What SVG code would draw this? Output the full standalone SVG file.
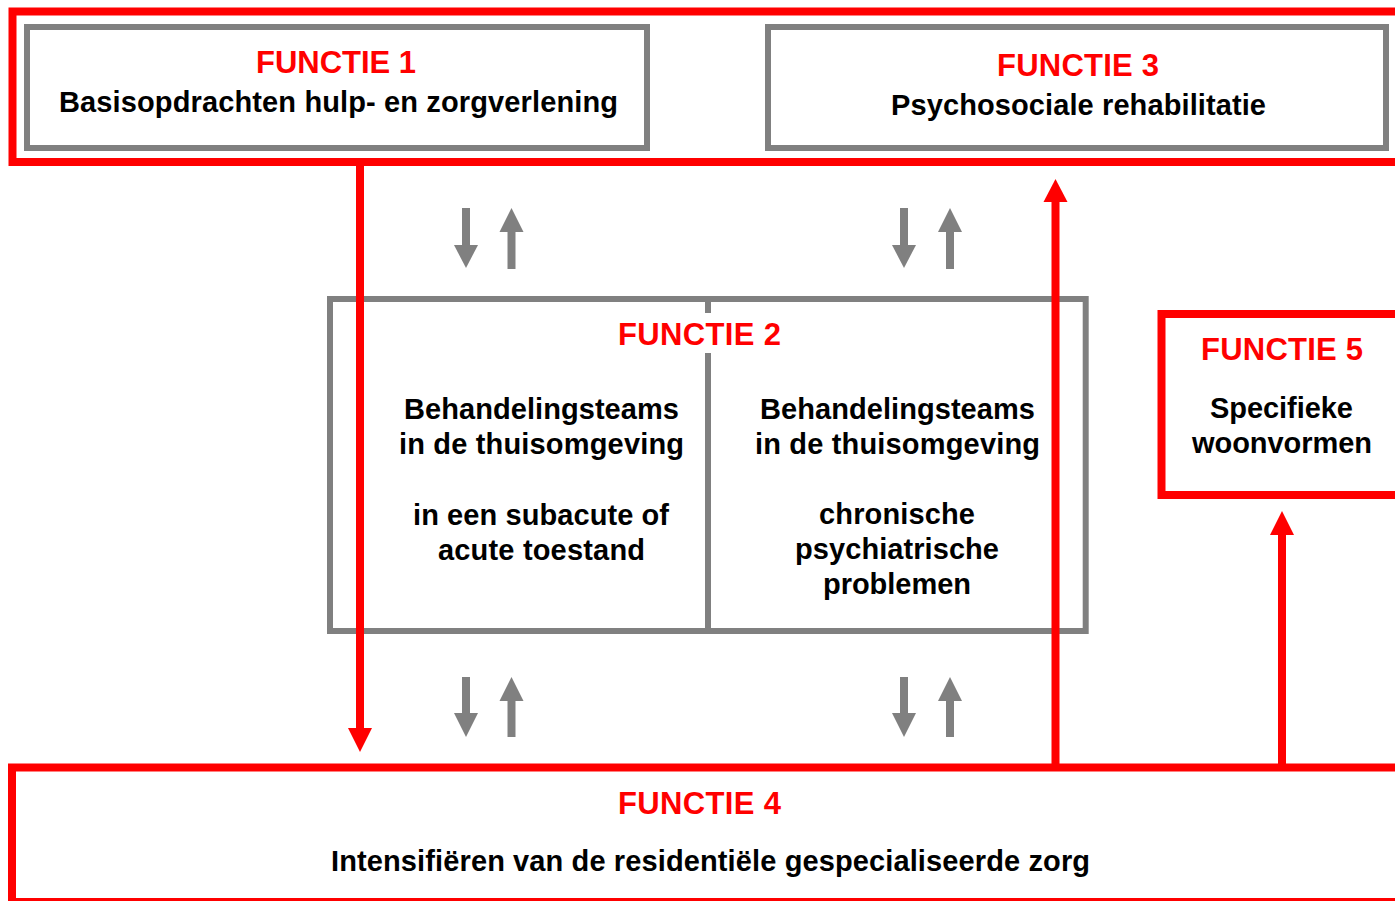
<svg xmlns="http://www.w3.org/2000/svg" width="1395" height="901" viewBox="0 0 1395 901">
<style>
.red{fill:none;stroke:#ff0000;stroke-width:8}
.gray{fill:none;stroke:#808080;stroke-width:6}
.t{font-family:"Liberation Sans",Arial,sans-serif;font-weight:bold;text-anchor:middle}
.h{font-size:31px;fill:#ff0000}
.b{font-size:29px;fill:#000}
.rs{stroke:#ff0000;stroke-width:8;fill:none}
.rh{fill:#ff0000}
.gs{stroke:#808080;stroke-width:8;fill:none}
.gh{fill:#808080}
</style>
<rect width="1395" height="901" fill="#fff"/>
<g id="group-top">
<rect class="red" x="12.5" y="11.5" width="1400" height="150.5"/>
</g>
<g id="functie1">
<rect class="gray" x="27" y="27" width="620" height="121"/>
<text class="t h" x="336" y="73" textLength="160">FUNCTIE 1</text>
<text class="t b" x="338.5" y="112" textLength="559">Basisopdrachten hulp- en zorgverlening</text>
</g>
<g id="functie3">
<rect class="gray" x="768" y="27" width="618" height="121"/>
<text class="t h" x="1078" y="76" textLength="162">FUNCTIE 3</text>
<text class="t b" x="1078.5" y="115" textLength="375">Psychosociale rehabilitatie</text>
</g>
<g id="functie2">
<rect class="gray" x="330" y="299" width="755.7" height="332"/>
<line class="gray" x1="708" y1="299" x2="708" y2="313"/>
<line class="gray" x1="708" y1="353" x2="708" y2="631"/>
<text class="t h" x="699.5" y="345" textLength="163">FUNCTIE 2</text>
<text class="t b" x="541.5" y="419" textLength="275">Behandelingsteams</text>
<text class="t b" x="541.5" y="454" textLength="285">in de thuisomgeving</text>
<text class="t b" x="541" y="525" textLength="256">in een subacute of</text>
<text class="t b" x="541.5" y="560" textLength="207">acute toestand</text>
<text class="t b" x="897.5" y="419" textLength="275">Behandelingsteams</text>
<text class="t b" x="897.5" y="454" textLength="285">in de thuisomgeving</text>
<text class="t b" x="897" y="524" textLength="156">chronische</text>
<text class="t b" x="897" y="559" textLength="204">psychiatrische</text>
<text class="t b" x="897" y="594" textLength="148">problemen</text>
</g>
<g id="functie5">
<rect class="red" x="1161.5" y="314" width="260" height="181"/>
<text class="t h" x="1282" y="360" textLength="162">FUNCTIE 5</text>
<text class="t b" x="1281.5" y="418" textLength="143">Specifieke</text>
<text class="t b" x="1282" y="453" textLength="180">woonvormen</text>
</g>
<g id="functie4">
<rect class="red" x="12" y="767.5" width="1400" height="134.5"/>
<text class="t h" x="699.5" y="814" textLength="163">FUNCTIE 4</text>
<text class="t b" x="710.5" y="871" textLength="759">Intensifiëren van de residentiële gespecialiseerde zorg</text>
</g>
<g id="connectors">
<line class="gs" x1="466" y1="208" x2="466" y2="246"/>
<polygon class="gh" points="454,245 478,245 466,268"/>
<line class="gs" x1="511.5" y1="231" x2="511.5" y2="269"/>
<polygon class="gh" points="499.5,232 523.5,232 511.5,208"/>
<line class="gs" x1="904" y1="208" x2="904" y2="246"/>
<polygon class="gh" points="892,245 916,245 904,268"/>
<line class="gs" x1="950" y1="231" x2="950" y2="269"/>
<polygon class="gh" points="938,232 962,232 950,208"/>
<line class="gs" x1="466" y1="677" x2="466" y2="714"/>
<polygon class="gh" points="454,713 478,713 466,737"/>
<line class="gs" x1="511.5" y1="700" x2="511.5" y2="737"/>
<polygon class="gh" points="499.5,701 523.5,701 511.5,677"/>
<line class="gs" x1="904" y1="677" x2="904" y2="714"/>
<polygon class="gh" points="892,713 916,713 904,737"/>
<line class="gs" x1="950" y1="700" x2="950" y2="737"/>
<polygon class="gh" points="938,701 962,701 950,677"/>
<line class="rs" x1="360" y1="166" x2="360" y2="729"/>
<polygon class="rh" points="348,728 372,728 360,752"/>
<line class="rs" x1="1055.5" y1="767" x2="1055.5" y2="201"/>
<polygon class="rh" points="1043.5,202 1067.5,202 1055.5,179"/>
<line class="rs" x1="1282" y1="767" x2="1282" y2="534"/>
<polygon class="rh" points="1270,535 1294,535 1282,511"/>
</g>
</svg>
